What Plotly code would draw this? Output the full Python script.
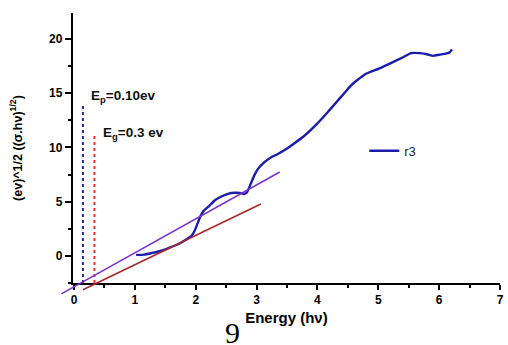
import plotly.graph_objects as go

# ---- data ----
energy = [1.02, 1.15, 1.29, 1.42, 1.56, 1.70, 1.83, 1.93, 1.98, 2.03, 2.08, 2.13, 2.22, 2.32,
          2.43, 2.54, 2.64, 2.73, 2.79, 2.84, 2.90, 2.96, 3.02, 3.12, 3.24, 3.35, 3.46, 3.60,
          3.79, 3.98, 4.16, 4.30, 4.44, 4.55, 4.65, 4.80, 5.02, 5.25, 5.40, 5.54, 5.68, 5.80,
          5.90, 6.00, 6.11, 6.17, 6.21]
r3 = [0.09, 0.12, 0.28, 0.45, 0.74, 1.05, 1.47, 1.85, 2.30, 3.00, 3.70, 4.15, 4.60, 5.16,
      5.50, 5.75, 5.82, 5.80, 5.70, 5.85, 6.60, 7.40, 8.00, 8.60, 9.10, 9.40, 9.76, 10.30,
      11.10, 12.10, 13.20, 14.10, 15.00, 15.70, 16.20, 16.80, 17.30, 17.90, 18.30, 18.70,
      18.70, 18.60, 18.45, 18.55, 18.65, 18.75, 19.05]

fit1_x = [-0.21, 3.38]   # purple tangent
fit1_y = [-3.5, 7.73]
fit2_x = [0.146, 3.07]   # brown tangent
fit2_y = [-3.13, 4.79]

ep_x = [0.146, 0.146]
ep_y = [-2.5, 14.0]
eg_x = [0.335, 0.335]
eg_y = [-2.5, 11.2]

x_range = [-0.02, 7.0]
y_range = [-2.5, 22.4]
x_ticks = [0, 1, 2, 3, 4, 5, 6, 7]
y_ticks = [0, 5, 10, 15, 20]

# ---- layout geometry ----
W, H = 508, 345
ml, mr, mt, mb = 55, 4, 13, 45
pw, ph = W - ml - mr, H - mt - mb
xd0 = (73 - ml) / pw
yd0 = ((H - mb) - 283) / ph

# overlay axes with same scale but larger domain (so tangents extend past axes)
xs = (x_range[1] - x_range[0]) / ((1 - xd0) * pw)
ys = (y_range[1] - y_range[0]) / ((1 - yd0) * ph)
x2_range = [x_range[0] - xd0 * pw * xs, x_range[1]]
y2_range = [y_range[0] - yd0 * ph * ys, y_range[1]]

fig = go.Figure()
fig.add_trace(go.Scatter(x=fit1_x, y=fit1_y, mode='lines', xaxis='x2', yaxis='y2',
                         line=dict(color='#7a35c8', width=1.6), showlegend=False))
fig.add_trace(go.Scatter(x=fit2_x, y=fit2_y, mode='lines', xaxis='x2', yaxis='y2',
                         line=dict(color='#a8282a', width=1.6), showlegend=False))
fig.add_trace(go.Scatter(x=ep_x, y=ep_y, mode='lines',
                         line=dict(color='#1c2a9c', width=2, dash='dot'), showlegend=False))
fig.add_trace(go.Scatter(x=eg_x, y=eg_y, mode='lines',
                         line=dict(color='#ff2a2a', width=2, dash='dot'), showlegend=False))
fig.add_trace(go.Scatter(x=energy, y=r3, mode='lines', name='r3',
                         line=dict(color='#1c1caa', width=2.4, shape='spline', smoothing=0.5)))

FONT = 'Liberation Sans, Arial'
bold = dict(family=FONT, size=12, color='black')
fig.update_layout(
    width=W, height=H, margin=dict(l=ml, r=mr, t=mt, b=mb),
    paper_bgcolor='white', plot_bgcolor='rgba(0,0,0,0)',
    font=dict(family=FONT, color='black'),
    xaxis=dict(domain=[xd0, 1], range=x_range, tickvals=x_ticks,
               ticktext=[f'<b>{v}</b>' for v in x_ticks],
               showline=True, linecolor='black', linewidth=2, mirror=False,
               ticks='outside', ticklen=5, tickwidth=2, tickcolor='black',
               minor=dict(dtick=0.5, tick0=0, ticks='outside', ticklen=3, tickwidth=1.5, tickcolor='black'),
               showgrid=False, zeroline=False, tickfont=bold,
               anchor='y',
               title=dict(text='<b>Energy (hν)</b>', font=dict(family=FONT, size=15), standoff=6)),
    yaxis=dict(domain=[yd0, 1], range=y_range, tickvals=y_ticks,
               ticktext=[f'<b>{v}</b>' for v in y_ticks],
               showline=True, linecolor='black', linewidth=2,
               ticks='outside', ticklen=6, tickwidth=2, tickcolor='black',
               minor=dict(dtick=2.5, tick0=0, ticks='outside', ticklen=3, tickwidth=1.5, tickcolor='black'),
               showgrid=False, zeroline=False, tickfont=bold,
               anchor='x',
               title=dict(text='<b>(ev)^1/2 ((σ.hν)<sup>1/2</sup>)</b>', font=dict(family=FONT, size=12.5), standoff=24)),
    xaxis2=dict(domain=[0, 1], range=x2_range, visible=False, anchor='y2'),
    yaxis2=dict(domain=[0, 1], range=y2_range, visible=False, anchor='x2'),
    legend=dict(x=0.695, y=0.52, xanchor='left', yanchor='middle', bgcolor='rgba(0,0,0,0)',
                font=dict(family=FONT, size=13, color='#222')),
    showlegend=True,
)

fig.add_annotation(x=0.25, y=14.7, xref='x', yref='y', xanchor='left', yanchor='middle',
                   text='<b>E<sub>p</sub>=0.10ev</b>', showarrow=False,
                   font=dict(family=FONT, size=13.5, color='#111'))
fig.add_annotation(x=0.44, y=11.3, xref='x', yref='y', xanchor='left', yanchor='middle',
                   text='<b>E<sub>g</sub>=0.3 ev</b>', showarrow=False,
                   font=dict(family=FONT, size=13.5, color='#111'))
fig.add_annotation(x=(234 - ml) / pw, y=(H - mb - 332) / ph, xref='paper', yref='paper',
                   text='9', showarrow=False, xanchor='center', yanchor='middle',
                   font=dict(family='Liberation Serif, DejaVu Serif', size=30, color='black'))

fig.write_html('out.html')
